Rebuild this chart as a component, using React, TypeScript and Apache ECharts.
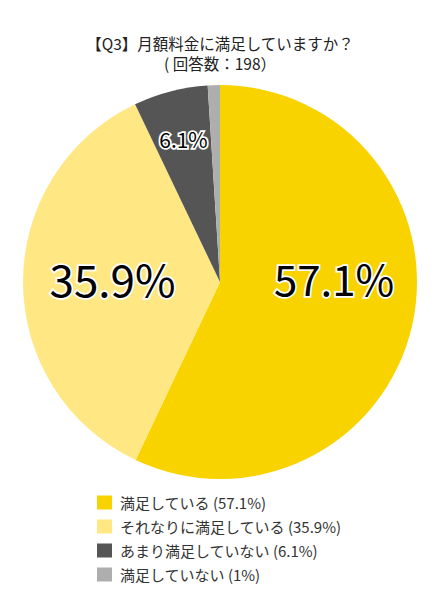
import { useEffect, useRef } from 'react'
import * as echarts from 'echarts'

const titleText = '【Q3】月額料金に満足していますか？'
const subText = '( 回答数：198）'

const categories = ['満足している', 'それなりに満足している', 'あまり満足していない', '満足していない']
const values = [57.1, 35.9, 6.1, 1]
const colors = ['#F9D300', '#FFE783', '#555555', '#AEAEAE']

// per-slice label size and nudge away from the default mid-radius spot
const labelSizes = [42, 44, 21, 0]
const labelShift = [
  [15, -27],
  [-6, -4],
  [-11, -45],
  [0, 0],
]

const FONT = '"Noto Sans CJK JP", "Noto Sans", sans-serif'

export default function App() {
  const ref = useRef<HTMLDivElement | null>(null)

  useEffect(() => {
    if (!ref.current) return
    const chart = echarts.init(ref.current, null, { renderer: 'svg' })
    chart.setOption(buildOption())
    return () => chart.dispose()
  }, [])

  return (
    <div
      ref={ref}
      style={{ position: 'fixed', left: 0, top: 0, width: 440, height: 600, background: '#fff' }}
    />
  )
}

function buildOption() {
  const data = categories.map((name, i) => ({
    name,
    value: values[i],
    itemStyle: { color: colors[i] },
    label: { show: labelSizes[i] > 0, fontSize: labelSizes[i] },
  }))

  const titleStyle = {
    fontFamily: FONT,
    fontSize: 15.5,
    fontWeight: 'normal',
    color: '#222',
  }

  return {
    animation: false,
    textStyle: { fontFamily: FONT },
    title: {
      text: titleText,
      subtext: subText,
      left: 'center',
      top: 35,
      padding: 0,
      itemGap: 4.5,
      textStyle: titleStyle,
      subtextStyle: titleStyle,
    },
    legend: {
      orient: 'vertical',
      left: 97,
      top: 495,
      padding: 0,
      itemWidth: 15,
      itemHeight: 14,
      itemGap: 9,
      icon: 'rect',
      formatter: (name: string) => `${name} (${values[categories.indexOf(name)]}%)`,
      textStyle: {
        fontFamily: FONT,
        fontSize: 15,
        color: '#333',
        padding: [0, 0, 0, 3],
      },
      data: categories,
    },
    series: [
      {
        type: 'pie',
        center: [220, 282],
        radius: 197,
        startAngle: 90,
        clockwise: true,
        silent: true,
        label: {
          position: 'inside',
          formatter: (p: any) => `${p.value}%`,
          fontFamily: FONT,
          color: '#000',
          textBorderColor: '#fff',
          textBorderWidth: 3.5,
        },
        labelLayout: (p: any) => ({ dx: labelShift[p.dataIndex][0], dy: labelShift[p.dataIndex][1] }),
        labelLine: { show: false },
        itemStyle: { borderWidth: 0 },
        emphasis: { disabled: true },
        data,
      },
    ],
  }
}
